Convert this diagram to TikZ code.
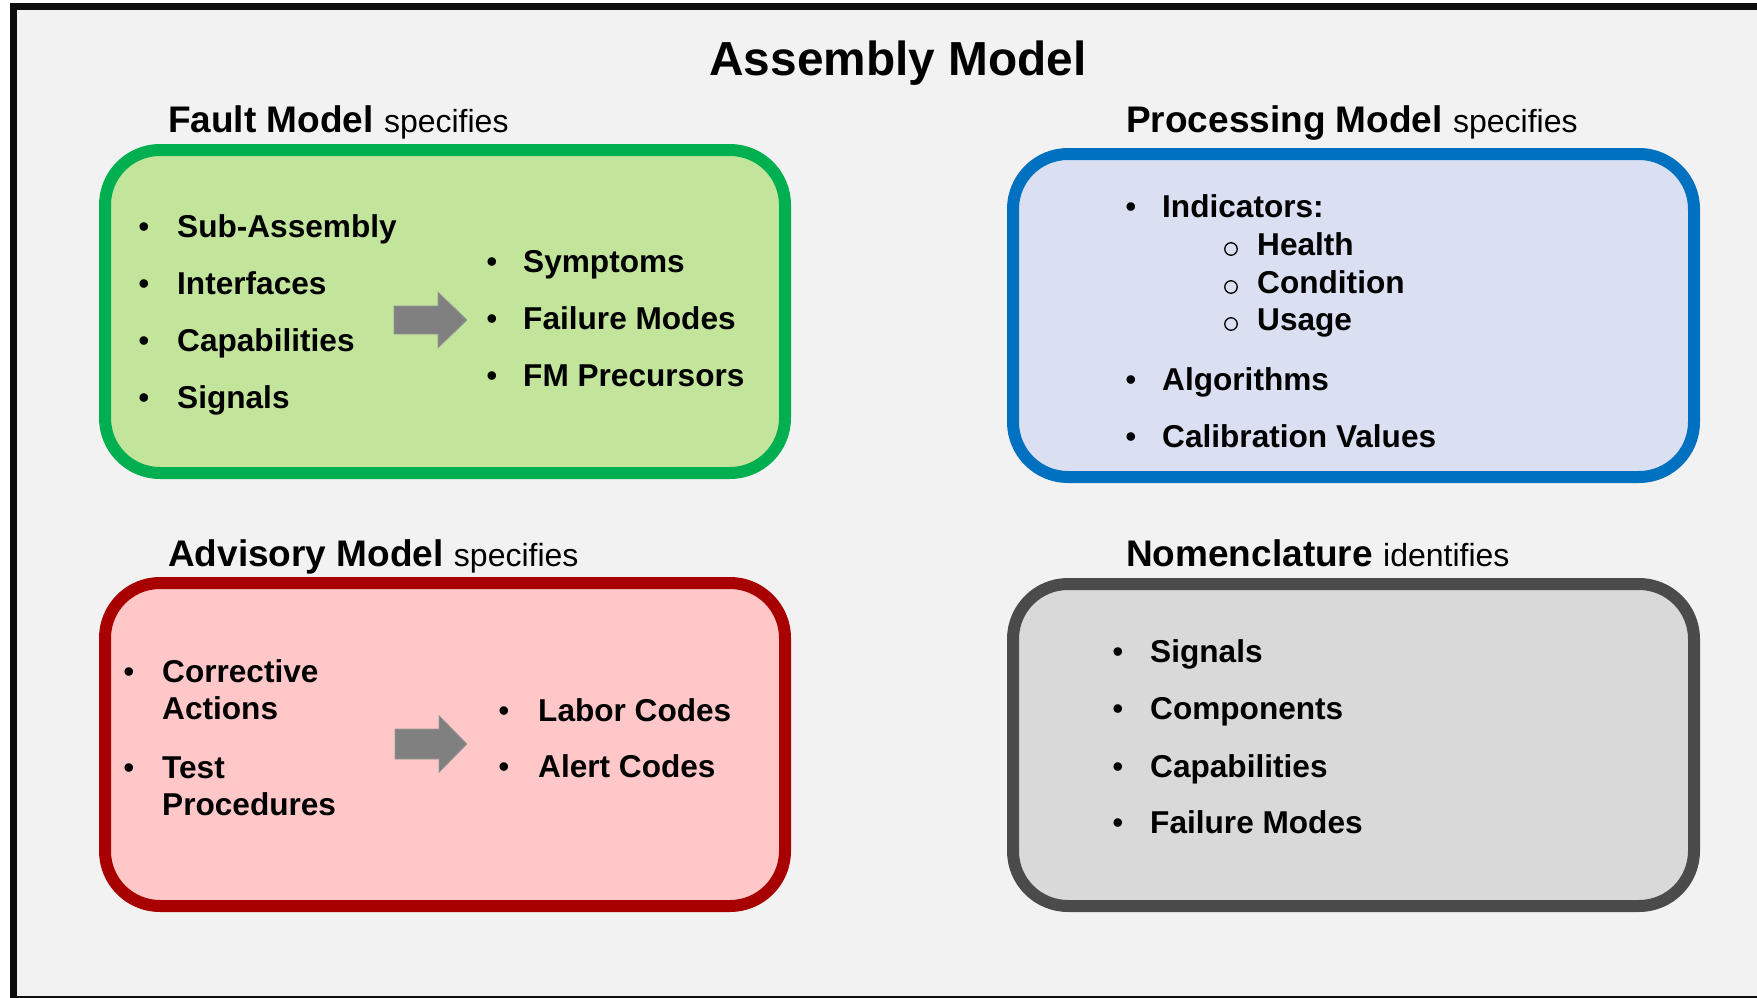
\documentclass[tikz,border=0pt]{standalone}
\usepackage{fontspec}
\setmainfont{Liberation Sans}
\definecolor{pagebg}{HTML}{F2F2F2}
\definecolor{frameline}{HTML}{0D0D0D}
\definecolor{faultline}{HTML}{00B050}
\definecolor{faultfill}{HTML}{C3E49B}
\definecolor{procline}{HTML}{0070C0}
\definecolor{procfill}{HTML}{DAE0F2}
\definecolor{advline}{HTML}{A80000}
\definecolor{advfill}{HTML}{FFC7C7}
\definecolor{nomline}{HTML}{4B4B4B}
\definecolor{nomfill}{HTML}{D9D9D9}
\definecolor{arrowgray}{HTML}{808080}
\begin{document}
\begin{tikzpicture}[x=1pt,y=-1pt,
  panel/.style={rectangle, line width=12pt, rounded corners=55pt, inner sep=0pt},
  heading/.style={anchor=base west, inner sep=0pt},
  itemtext/.style={anchor=base west, inner sep=0pt, font=\fontsize{31.6}{37}\selectfont\bfseries},
  itemdot/.style={anchor=base, inner sep=0pt, font=\fontsize{31.6}{37}\selectfont},
  subdot/.style={circle, draw=black, line width=1.3pt, minimum size=12.5pt, inner sep=0pt},
  fatarrow/.style={fill=arrowgray, draw=arrowgray!80!white, line width=0.6pt}
]
% page and outer frame
\useasboundingbox (0,0) rectangle (1757,998);
\clip (0,0) rectangle (1757,998);
\fill[white] (0,0) rectangle (1757,998);
\draw[frameline, fill=pagebg, line width=7pt] (13.5,6.5) rectangle (1775,999.5);

% title
\node[anchor=base, inner sep=0pt, font=\fontsize{47.8}{52}\selectfont\bfseries] (title) at (898,75) {Assembly Model};

% panels
\node[panel, draw=faultline, fill=faultfill, minimum width=680pt, minimum height=323pt] (fault) at (445,311.5) {};
\node[panel, draw=procline, fill=procfill, minimum width=681pt, minimum height=323pt] (proc) at (1353.5,315.5) {};
\node[panel, draw=advline, fill=advfill, minimum width=680pt, minimum height=323pt] (adv) at (445,744.5) {};
\node[panel, draw=nomline, fill=nomfill, minimum width=681pt, minimum height=322pt] (nom) at (1353.5,745) {};

% headings
\node[heading] (hfault) at (168,132) {\fontsize{37}{40}\selectfont\bfseries Fault Model \fontsize{32}{36}\selectfont\mdseries specifies};
\node[heading] (hproc) at (1126,132) {\fontsize{37}{40}\selectfont\bfseries Processing Model \fontsize{32}{36}\selectfont\mdseries specifies};
\node[heading] (hadv) at (168,566) {\fontsize{37}{40}\selectfont\bfseries Advisory Model \fontsize{32}{36}\selectfont\mdseries specifies};
\node[heading] (hnom) at (1126,566) {\fontsize{37}{40}\selectfont\bfseries Nomenclature \fontsize{32}{36}\selectfont\mdseries identifies};

% fault model: inputs
\node[itemdot] (fd1) at (144,237) {•};
\node[itemtext] (fi1) at (177,237) {Sub-Assembly};
\node[itemdot] (fd2) at (144,294) {•};
\node[itemtext] (fi2) at (177,294) {Interfaces};
\node[itemdot] (fd3) at (144,351) {•};
\node[itemtext] (fi3) at (177,351) {Capabilities};
\node[itemdot] (fd4) at (144,408) {•};
\node[itemtext] (fi4) at (177,408) {Signals};
% fault model: outputs
\node[itemdot] (fo1d) at (492,272) {•};
\node[itemtext] (fo1) at (523,272) {Symptoms};
\node[itemdot] (fo2d) at (492,329) {•};
\node[itemtext] (fo2) at (523,329) {Failure Modes};
\node[itemdot] (fo3d) at (492,386) {•};
\node[itemtext] (fo3) at (523,386) {FM Precursors};
% fault model arrow
\path[fatarrow, shift={(394,320)}] (0,-14) -- (44,-14) -- (44,-28) -- (73,0) -- (44,28) -- (44,14) -- (0,14) -- cycle;

% processing model
\node[itemdot] (pd1) at (1131,217) {•};
\node[itemtext] (pi1) at (1162,217) {Indicators:};
\node[subdot] (ps1) at (1231,249) {};
\node[itemtext] (psi1) at (1257,255) {Health};
\node[subdot] (ps2) at (1231,287) {};
\node[itemtext] (psi2) at (1257,293) {Condition};
\node[subdot] (ps3) at (1231,324) {};
\node[itemtext] (psi3) at (1257,330) {Usage};
\node[itemdot] (pd2) at (1131,390) {•};
\node[itemtext] (pi2) at (1162,390) {Algorithms};
\node[itemdot] (pd3) at (1131,447) {•};
\node[itemtext] (pi3) at (1162,447) {Calibration Values};

% advisory model: inputs
\node[itemdot] (ad1) at (129,682) {•};
\node[itemtext] (ai1a) at (162,682) {Corrective};
\node[itemtext] (ai1b) at (162,719) {Actions};
\node[itemdot] (ad2) at (129,778) {•};
\node[itemtext] (ai2a) at (162,778) {Test};
\node[itemtext] (ai2b) at (162,815) {Procedures};
% advisory model: outputs
\node[itemdot] (ao1d) at (504,721) {•};
\node[itemtext] (ao1) at (538,721) {Labor Codes};
\node[itemdot] (ao2d) at (504,777) {•};
\node[itemtext] (ao2) at (538,777) {Alert Codes};
% advisory model arrow
\path[fatarrow, shift={(395,744)}] (0,-15) -- (44,-15) -- (44,-28.5) -- (72,0) -- (44,28.5) -- (44,15) -- (0,15) -- cycle;

% nomenclature
\node[itemdot] (nd1) at (1118,662) {•};
\node[itemtext] (ni1) at (1150,662) {Signals};
\node[itemdot] (nd2) at (1118,719) {•};
\node[itemtext] (ni2) at (1150,719) {Components};
\node[itemdot] (nd3) at (1118,777) {•};
\node[itemtext] (ni3) at (1150,777) {Capabilities};
\node[itemdot] (nd4) at (1118,833) {•};
\node[itemtext] (ni4) at (1150,833) {Failure Modes};
\end{tikzpicture}
\end{document}
